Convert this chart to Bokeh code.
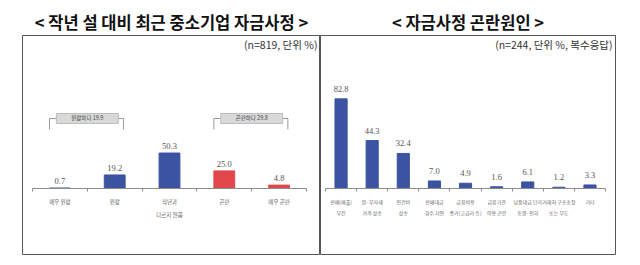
from bokeh.plotting import figure
from bokeh.models import (Range1d, FixedTicker, ColumnDataSource, LabelSet, Label)
from bokeh.layouts import row
from bokeh.embed import file_html
from bokeh.resources import INLINE

# ---------------- data ----------------
left_title = "< 작년 설 대비 최근 중소기업 자금사정 >"
left_note = "(n=819, 단위 %)"
left_cats = ["매우 원활", "원활", "작년과\n다르지 않음", "곤란", "매우 곤란"]
left_vals = [0.7, 19.2, 50.3, 25.0, 4.8]
left_group = ["good", "good", "good", "bad", "bad"]

bracket_names = ["원활하다", "곤란하다"]
bracket_vals = [19.9, 29.8]
bracket_start = [0, 3]
bracket_end = [1, 4]

right_title = "< 자금사정 곤란원인 >"
right_note = "(n=244, 단위 %, 복수응답)"
right_cats = ["판매(매출)\n부진", "원·부자재\n가격 상승", "인건비\n상승", "판매대금\n회수 지연",
              "금융비용\n증가(고금리 등)", "금융기관\n이용 곤란", "납품대금 단가\n동결·인하",
              "거래처 구조조정\n또는 부도", "기타"]
right_vals = [82.8, 44.3, 32.4, 7.0, 4.9, 1.6, 6.1, 1.2, 3.3]

BLUE = "#3b53a0"
RED = "#e0484c"
KFONT = "Noto Sans CJK KR"
NFONT = "Roboto"


def make_panel(title, note, cats, vals, colors, width, border_l, border_r,
               xpad_l, xpad_r, ytop, ybot, bar_w, lab_font, val_off):
    n = len(cats)
    p = figure(width=width, height=265, output_backend="svg", toolbar_location=None,
               x_range=Range1d(-xpad_l, n + xpad_r), y_range=Range1d(ybot, ytop),
               y_axis_location=None, min_border_left=border_l, min_border_right=border_r,
               min_border_top=35, min_border_bottom=11)
    p.title.text = title
    p.title.align = "center"
    p.title.text_font = KFONT
    p.title.text_font_size = "16.5px"
    p.title.text_font_style = "bold"
    p.title.text_color = "#111111"
    p.title.standoff = 4
    p.outline_line_color = "#555555"
    p.outline_line_width = 1
    p.background_fill_color = "white"
    p.border_fill_color = "white"
    p.xgrid.visible = False
    p.ygrid.visible = False

    centers = [i + 0.5 for i in range(n)]
    src = ColumnDataSource(dict(x=centers, top=vals, color=colors,
                                lab=["%.1f" % v for v in vals]))
    p.vbar(x="x", top="top", bottom=0, width=bar_w, color="color", source=src)
    p.add_layout(LabelSet(x="x", y="top", text="lab", source=src, text_align="center",
                          text_baseline="bottom", y_offset=val_off, text_font=NFONT,
                          text_font_size="8.5px", text_color="#555555"))

    ax = p.xaxis[0]
    ax.ticker = FixedTicker(ticks=centers, minor_ticks=list(range(n + 1)))
    ax.major_label_overrides = {c: lab for c, lab in zip(centers, cats)}
    ax.fixed_location = 0
    ax.bounds = (0, n)
    ax.axis_line_color = "#8c8c8c"
    ax.major_tick_line_color = None
    ax.minor_tick_line_color = "#8c8c8c"
    ax.minor_tick_in = 0
    ax.minor_tick_out = 3
    ax.major_label_text_font = KFONT
    ax.major_label_text_font_size = lab_font
    ax.major_label_text_color = "#666666"
    ax.major_label_standoff = 3
    ax.major_label_text_line_height = 1.65

    p.add_layout(Label(x=n + xpad_r, y=ytop, x_offset=-3, y_offset=-9, text=note,
                       text_align="right", text_baseline="middle", text_font=KFONT,
                       text_font_size="10.5px", text_color="#333333"))
    return p


left_colors = [BLUE if g == "good" else RED for g in left_group]
p1 = make_panel(left_title, left_note, left_cats, left_vals, left_colors,
                320, 22, 0, 0.1825, 0.2555, 217.0, -93.6, 0.38, "5.5px", 4)

# brackets on the left chart
bx0 = [s + 0.31 for s in bracket_start]
bx1 = [e + 0.66 for e in bracket_end]
ytop_b, ybot_b = 99.3, 83.7
xs = [[a, a, b, b] for a, b in zip(bx0, bx1)]
ys = [[ybot_b, ytop_b, ytop_b, ybot_b] for _ in bx0]
p1.multi_line(xs=xs, ys=ys, line_color="#9a9a9a", line_width=1)
bsrc = ColumnDataSource(dict(x=[(s + e + 1) / 2 for s, e in zip(bracket_start, bracket_end)],
                             y=[ytop_b] * len(bracket_names),
                             lab=["%s %.1f" % (nm, v) for nm, v in zip(bracket_names, bracket_vals)]))
p1.rect(x="x", y="y", width=1.13, height=10, height_units="screen", fill_color="#d9d9d9",
        line_color="#bdbdbd", source=bsrc)
p1.text(x="x", y="y", text="lab", source=bsrc, text_align="center", text_baseline="middle",
        text_font={"value": KFONT}, text_font_size={"value": "5.5px"}, text_color="#444444")

p2 = make_panel(right_title, right_note, right_cats, right_vals, [BLUE] * len(right_vals),
                320, 0, 25, 0.161, 0.32, 141.3, -60.9, 0.39, "5px", 7)

layout = row(p1, p2, spacing=0)
open("out.html", "w").write(file_html(layout, INLINE))
